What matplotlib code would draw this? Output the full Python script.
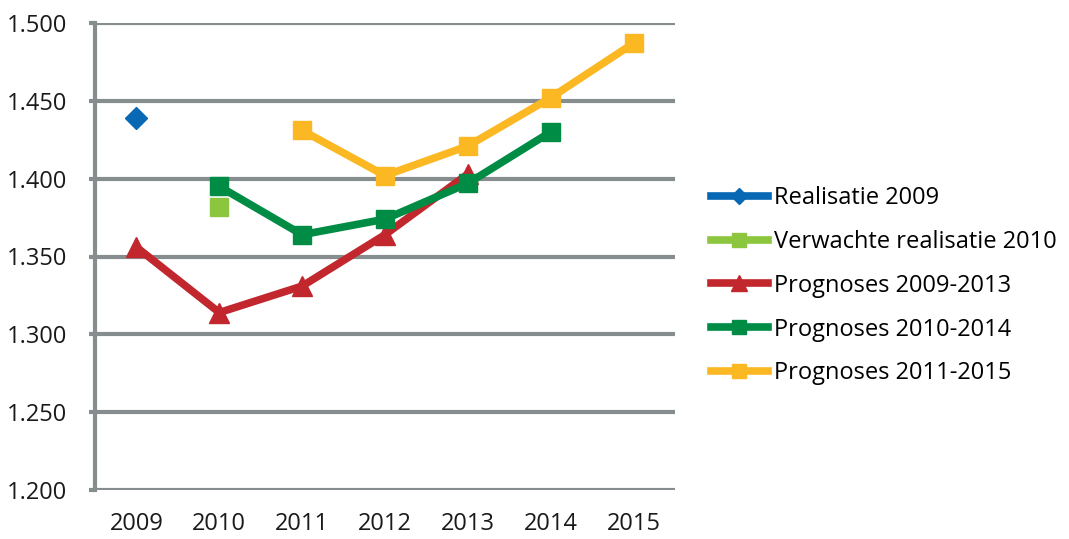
import matplotlib
matplotlib.use("Agg")
import matplotlib.pyplot as plt
import numpy as np

years = ["2009", "2010", "2011", "2012", "2013", "2014", "2015"]
real_2009 = [1.439, None, None, None, None, None, None]
verw_2010 = [None, 1.382, None, None, None, None, None]
prog_0913 = [1.356, 1.314, 1.331, 1.364, 1.403, None, None]
prog_1014 = [None, 1.395, 1.364, 1.374, 1.397, 1.430, None]
prog_1115 = [None, None, 1.431, 1.402, 1.421, 1.452, 1.487]
yticks = [1.200, 1.250, 1.300, 1.350, 1.400, 1.450, 1.500]
ytick_labels = ["1.200", "1.250", "1.300", "1.350", "1.400", "1.450", "1.500"]

series = [
    ("Realisatie 2009", real_2009, "#0868b4", "D", 11),
    ("Verwachte realisatie 2010", verw_2010, "#8cc63f", "s", 13),
    ("Prognoses 2009-2013", prog_0913, "#c1272d", "^", 15),
    ("Prognoses 2010-2014", prog_1014, "#008c44", "s", 13),
    ("Prognoses 2011-2015", prog_1115, "#fbb823", "s", 13),
]

plt.rcParams['font.family'] = ['Open Sans', 'DejaVu Sans']
fig = plt.figure(figsize=(10.69, 5.39), dpi=100)
ax = fig.add_axes([95/1069, 1-490/539, 580/1069, 467/539])

x = np.arange(len(years))
grid_c = "#868d8e"
for t in yticks:
    ax.axhline(t, color=grid_c, lw=3, zorder=1, solid_capstyle='butt')

handles = []
for name, vals, col, mk, ms in series:
    v = np.array([np.nan if a is None else a for a in vals], dtype=float)
    ln, = ax.plot(x, v, color=col, lw=5.5, marker=mk, ms=ms, mec=col, mfc=col,
                  zorder=3, solid_joinstyle='round', label=name)
    handles.append(ln)

ax.set_xlim(-0.5, 6.5)
ax.set_ylim(1.2, 1.5)
ax.set_yticks(yticks)
ax.set_yticklabels(ytick_labels)
ax.set_xticks(x)
ax.set_xticklabels(years)
for s in ["top", "right", "bottom"]:
    ax.spines[s].set_visible(False)
ax.spines["left"].set_color(grid_c)
ax.spines["left"].set_linewidth(3)
ax.tick_params(axis='y', length=4, width=3, color=grid_c, labelsize=17, pad=16,
               labelcolor="#1a1a1a")
ax.tick_params(axis='x', length=0, labelsize=17, pad=16, labelcolor="#1a1a1a")

leg = fig.legend(handles=handles, loc='upper left', bbox_to_anchor=(711/1069, 1-186/539),
                 frameon=False, fontsize=17, handlelength=2.4, handletextpad=0.25,
                 labelspacing=0.84, borderpad=0, borderaxespad=0, markerscale=0.75)
fig.savefig("out.png", dpi=100)
